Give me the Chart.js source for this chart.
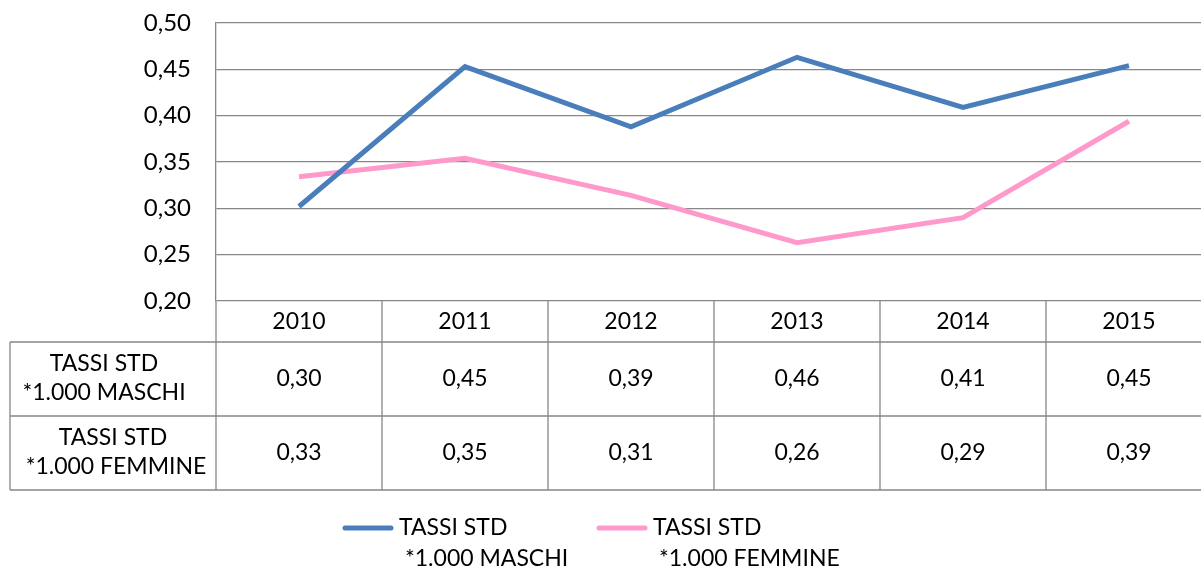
<!DOCTYPE html>
<html>
<head>
<meta charset="utf-8">
<script src="https://cdn.jsdelivr.net/npm/chart.js@4.4.1/dist/chart.umd.min.js"></script>
<style>
  html, body { margin: 0; padding: 0; background: #fff; overflow: hidden; }
  #wrap { width: 1215px; height: 569px; }
</style>
</head>
<body>
<div id="wrap"><canvas id="chart" width="1215" height="569"></canvas></div>
<script>
// data
const years = ['2010', '2011', '2012', '2013', '2014', '2015'];
const maschi = [0.302, 0.453, 0.388, 0.463, 0.409, 0.454];
const femmine = [0.334, 0.354, 0.314, 0.263, 0.290, 0.394];
const maschiLabel = ['TASSI STD', '*1.000 MASCHI'];
const femmineLabel = ['TASSI STD', '*1.000 FEMMINE'];
const yTicks = [0.20, 0.25, 0.30, 0.35, 0.40, 0.45, 0.50];

const FONT = 'Lato, "Open Sans", sans-serif';
const FS = 23;
const GRID = '#878787';

function fmt(v) {
    return v.toFixed(2).replace('.', ',');
}

// draws the data table under the plot and the legend at the bottom
const tablePlugin = {
    id: 'dataTable',
    afterDraw(chart) {
        const ctx = chart.ctx;
        const x = chart.scales.x;
        const area = chart.chartArea;
        const colW = area.width / years.length;
        const top = area.bottom;
        const row0 = top + 41, row1 = row0 + 74, row2 = row1 + 74;
        const leftX = 10;

        ctx.save();
        ctx.strokeStyle = GRID;
        ctx.lineWidth = 1.3;
        ctx.beginPath();
        // horizontal lines
        [row0, row1, row2].forEach(function(y) {
            ctx.moveTo(leftX, y);
            ctx.lineTo(area.right, y);
        });
        // vertical lines
        for (let i = 0; i <= years.length; i++) {
            const vx = area.left + i * colW;
            ctx.moveTo(vx, top);
            ctx.lineTo(vx, row2);
        }
        ctx.moveTo(leftX, row0);
        ctx.lineTo(leftX, row2);
        ctx.stroke();

        ctx.fillStyle = '#000';
        ctx.font = FS + 'px ' + FONT;
        ctx.textAlign = 'center';
        ctx.textBaseline = 'middle';
        years.forEach(function(yr, i) {
            const cx = x.getPixelForValue(i);
            ctx.fillText(yr, cx, (top + row0) / 2);
            ctx.fillText(fmt(maschi[i]), cx, (row0 + row1) / 2);
            ctx.fillText(fmt(femmine[i]), cx, (row1 + row2) / 2);
        });

        // row headers
        const hx = (leftX + area.left) / 2;
        ctx.fillText(maschiLabel[0], hx - 9, (row0 + row1) / 2 - 15);
        ctx.fillText(maschiLabel[1], hx - 9, (row0 + row1) / 2 + 14);
        ctx.fillText(femmineLabel[0], hx, (row1 + row2) / 2 - 15);
        ctx.fillText(femmineLabel[1], hx + 3, (row1 + row2) / 2 + 14);

        // legend
        const items = [
            { lines: maschiLabel, color: chart.data.datasets[0].borderColor, x: 343 },
            { lines: femmineLabel, color: chart.data.datasets[1].borderColor, x: 597 }
        ];
        ctx.textAlign = 'left';
        ctx.lineCap = 'round';
        items.forEach(function(it) {
            ctx.strokeStyle = it.color;
            ctx.lineWidth = 5;
            ctx.beginPath();
            ctx.moveTo(it.x + 2, 528);
            ctx.lineTo(it.x + 48, 528);
            ctx.stroke();
            ctx.fillText(it.lines[0], it.x + 56, 528);
            ctx.fillText(it.lines[1], it.x + 62, 559);
        });
        ctx.restore();
    }
};

const ctx = document.getElementById('chart').getContext('2d');
new Chart(ctx, {
    type: 'line',
    data: {
        labels: years,
        datasets: [{
            label: maschiLabel.join(' '),
            data: maschi,
            borderColor: '#4A7EBB',
            borderWidth: 5,
            pointRadius: 0,
            tension: 0,
            fill: false
        }, {
            label: femmineLabel.join(' '),
            data: femmine,
            borderColor: '#FF99CC',
            borderWidth: 5,
            pointRadius: 0,
            tension: 0,
            fill: false
        }]
    },
    options: {
        responsive: false,
        animation: false,
        events: [],
        layout: { padding: { left: 0, top: 23, right: 3, bottom: 268 } },
        plugins: {
            legend: { display: false },
            tooltip: { enabled: false }
        },
        scales: {
            x: {
                display: false,
                offset: true
            },
            y: {
                min: 0.2,
                max: 0.5,
                afterFit: function(scale) {
                    scale.width = 216;
                    scale.paddingTop = 0;
                    scale.paddingBottom = 0;
                },
                afterBuildTicks: function(scale) {
                    scale.ticks = yTicks.map(function(v) { return { value: v }; });
                },
                border: { display: true, color: GRID, width: 1.3 },
                grid: { color: GRID, lineWidth: 1.3, drawTicks: false },
                ticks: {
                    padding: 25,
                    color: '#000',
                    font: { family: FONT, size: 24 },
                    callback: function(value) { return fmt(value); }
                }
            }
        }
    },
    plugins: [tablePlugin]
});
</script>
</body>
</html>
